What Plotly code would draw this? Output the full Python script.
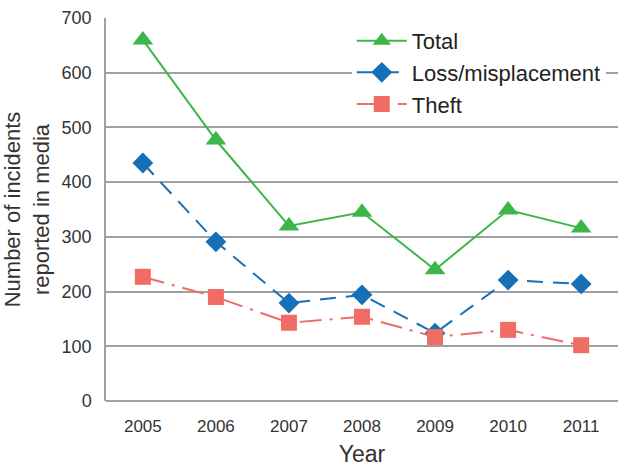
import plotly.graph_objects as go

years = ["2005", "2006", "2007", "2008", "2009", "2010", "2011"]
total = [660, 477, 320, 345, 240, 349, 316]
loss = [435, 291, 179, 194, 124, 221, 214]
theft = [227, 190, 143, 154, 117, 130, 102]

font_family = "Liberation Sans, Arial, sans-serif"

fig = go.Figure()
fig.add_trace(go.Scatter(x=years, y=total, name="Total", mode="lines+markers",
                         line=dict(color="#3cb64a", width=2),
                         marker=dict(symbol="triangle-up", size=18, color="#3cb64a")))
fig.add_trace(go.Scatter(x=years, y=loss, name="Loss/misplacement", mode="lines+markers",
                         line=dict(color="#1570b8", width=2, dash="16px,10px"),
                         marker=dict(symbol="diamond", size=16, color="#1570b8")))
fig.add_trace(go.Scatter(x=years, y=theft, name="Theft", mode="lines+markers",
                         line=dict(color="#f16c65", width=2, dash="22px,8px,3px,8px"),
                         marker=dict(symbol="square", size=16, color="#f16c65")))

fig.update_layout(
    width=624, height=468,
    margin=dict(l=106, r=6, t=18, b=67),
    paper_bgcolor="white", plot_bgcolor="white",
    font=dict(family=font_family, size=17, color="#333333"),
    legend=dict(x=0.48, y=0.995, xanchor="left", yanchor="top",
                bgcolor="white", font=dict(size=22, color="#222222"),
                itemwidth=50, tracegroupgap=0),
    showlegend=True,
)
fig.update_xaxes(type="category", showgrid=False, showline=False, ticks="",
                 ticklabelstandoff=13,
                 title=dict(text="Year", font=dict(size=23), standoff=10),
                 tickfont=dict(size=17))
fig.update_yaxes(range=[0, 700], dtick=100, showgrid=True, gridcolor="#a0a0a4", gridwidth=1.5,
                 showline=True, linecolor="#a0a0a4", linewidth=1.5,
                 zeroline=True, zerolinecolor="#a0a0a4", zerolinewidth=1.5,
                 ticks="", ticklabelstandoff=9,
                 title=dict(text="Number of incidents<br>reported in media", font=dict(size=22), standoff=6),
                 tickfont=dict(size=18))

fig.write_html("out.html")
